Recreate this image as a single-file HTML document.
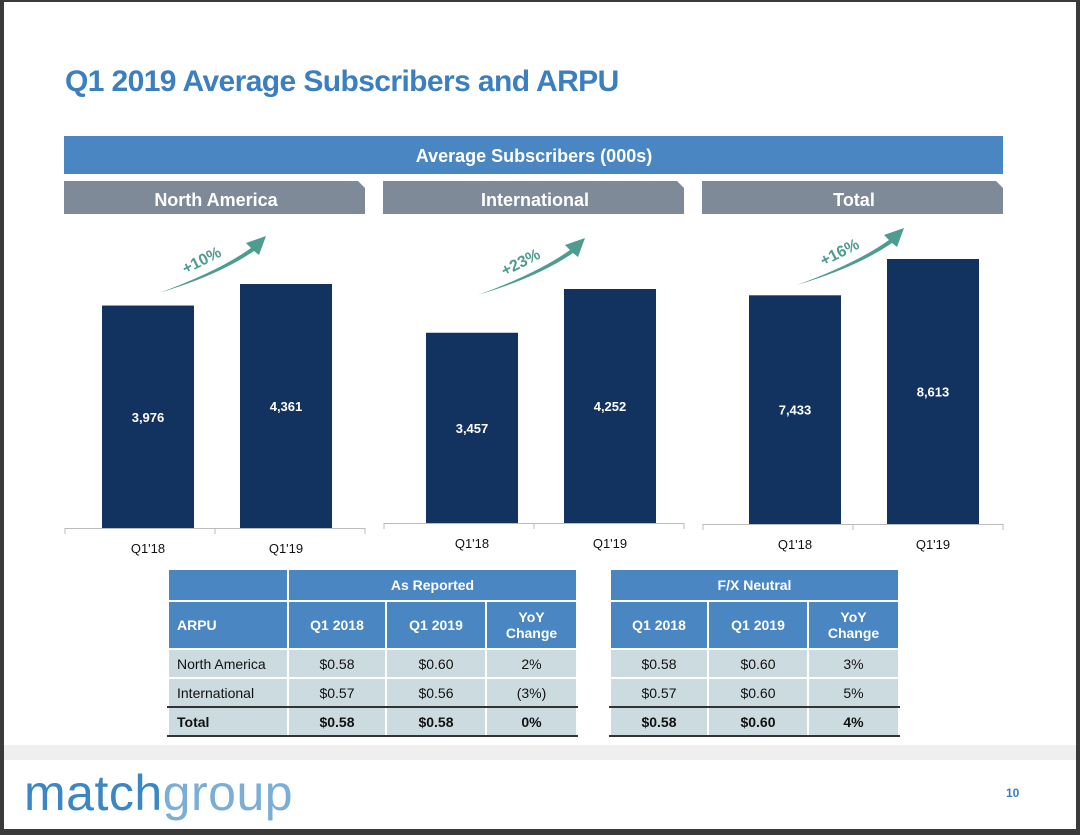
<!DOCTYPE html>
<html><head><meta charset="utf-8"><style>
body{margin:0;width:1080px;height:835px;overflow:hidden;background:#3a3a3a;font-family:"Liberation Sans",sans-serif;}
#page{position:absolute;left:4px;top:2px;width:1072px;height:827px;background:#fff;}
.title{position:absolute;left:61px;top:63px;font-size:30px;font-weight:bold;color:#3b7fc0;letter-spacing:-0.6px;}
table{position:absolute;border-collapse:collapse;font-size:14px;}
td{border:2px solid #fff;text-align:center;padding:0;}
.h{background:#4a86c1;color:#fff;font-weight:bold;}
.r{background:#ccdbe0;color:#111;}
</style></head><body>
<div id="page">
<div class="title">Q1 2019 Average Subscribers and ARPU</div>
<svg id="chart" width="1072" height="560" style="position:absolute;left:0;top:0">
<rect x="60" y="134" width="939" height="38" fill="#4a86c1"/>
<text x="530" y="160" text-anchor="middle" fill="#fff" font-weight="bold" font-size="18">Average Subscribers (000s)</text>
</svg>
<table style="left:163px;top:566px;width:411px">
<tr style="height:32px"><td style="background:#4a86c1;width:118px"></td><td class="h" colspan="3">As Reported</td></tr>
<tr style="height:48px"><td class="h" style="text-align:left;padding-left:8px">ARPU</td><td class="h" style="width:96px">Q1 2018</td><td class="h" style="width:98px">Q1 2019</td><td class="h">YoY<br>Change</td></tr>
<tr class="r" style="height:29px"><td style="text-align:left;padding-left:8px">North America</td><td>$0.58</td><td>$0.60</td><td>2%</td></tr>
<tr class="r" style="height:29px"><td style="text-align:left;padding-left:8px;border-bottom:2px solid #333">International</td><td style="border-bottom:2px solid #333">$0.57</td><td style="border-bottom:2px solid #333">$0.56</td><td style="border-bottom:2px solid #333">(3%)</td></tr>
<tr class="r" style="height:29px;font-weight:bold"><td style="text-align:left;padding-left:8px;border-bottom:2px solid #333">Total</td><td style="border-bottom:2px solid #333">$0.58</td><td style="border-bottom:2px solid #333">$0.58</td><td style="border-bottom:2px solid #333">0%</td></tr>
</table>
<table style="left:605px;top:566px;width:291px">
<tr style="height:32px"><td class="h" colspan="3">F/X Neutral</td></tr>
<tr style="height:48px"><td class="h" style="width:96px">Q1 2018</td><td class="h" style="width:98px">Q1 2019</td><td class="h">YoY<br>Change</td></tr>
<tr class="r" style="height:29px"><td>$0.58</td><td>$0.60</td><td>3%</td></tr>
<tr class="r" style="height:29px"><td style="border-bottom:2px solid #333">$0.57</td><td style="border-bottom:2px solid #333">$0.60</td><td style="border-bottom:2px solid #333">5%</td></tr>
<tr class="r" style="height:29px;font-weight:bold"><td style="border-bottom:2px solid #333">$0.58</td><td style="border-bottom:2px solid #333">$0.60</td><td style="border-bottom:2px solid #333">4%</td></tr>
</table>
<div style="position:absolute;left:0;top:743px;width:1072px;height:15px;background:#efefef"></div>
<div style="position:absolute;left:20px;top:762px;font-size:50px;color:#3b86c4;letter-spacing:0.5px"><span>match</span><span style="color:#7aaed6">group</span></div>
<div style="position:absolute;left:1002px;top:784px;font-size:12px;font-weight:bold;color:#3b7fc0">10</div>
</div>
<script>
const panels=["North America","International","Total"];
const categories=["Q1'18","Q1'19"];
const naValues=[3976,4361];
const intlValues=[3457,4252];
const totalValues=[7433,8613];
const growthLabels=["+10%","+23%","+16%"];
const series=[naValues,intlValues,totalValues];
const svg=document.getElementById('chart');
const NS='http://www.w3.org/2000/svg';
function mk(t,a){const e=document.createElementNS(NS,t);for(const k in a)e.setAttribute(k,a[k]);svg.appendChild(e);return e;}
const panelX=[60,379,698], baseY=[526,521,522], maxH=[244,234,265], barOff=[38,43,47];
panels.forEach((p,i)=>{
  const x0=panelX[i];
  const hd=mk('path',{d:`M${x0} 179 H${x0+294} L${x0+301} 186 V212 H${x0} Z`,fill:'#7f8a99'});
  
  
  const ht=mk('text',{x:x0+152,y:204,'text-anchor':'middle',fill:'#fff','font-weight':'bold','font-size':'18'});ht.textContent=p;
  
  
  const vals=series[i];const mx=Math.max(...vals);
  const y=v=>baseY[i]-v/mx*maxH[i];
  const ax=mk('line',{x1:x0+1,x2:x0+301,y1:baseY[i]+0.5,y2:baseY[i]+0.5,stroke:'#bbb'});
  
  
  mk('line',{x1:x0+1,x2:x0+1,y1:baseY[i],y2:baseY[i]+6,stroke:'#bbb'});
  mk('line',{x1:x0+151,x2:x0+151,y1:baseY[i],y2:baseY[i]+6,stroke:'#bbb'});
  mk('line',{x1:x0+301,x2:x0+301,y1:baseY[i],y2:baseY[i]+6,stroke:'#bbb'});
  vals.forEach((v,j)=>{
    const bx=x0+barOff[i]+j*138, top=y(v);
    const b=mk('rect',{x:bx,y:top,width:92,height:baseY[i]-top,fill:'#12325f'});
    
    
    const t=mk('text',{x:bx+46,y:(top+baseY[i])/2+5,'text-anchor':'middle',fill:'#fff','font-weight':'bold','font-size':'13'});t.textContent=v.toLocaleString('en-US');
    
    
    const c=mk('text',{x:bx+46,y:baseY[i]+25,'text-anchor':'middle',fill:'#111','font-size':'13'});c.textContent=categories[j];
    
    
  });
  const ay=[291,293,283][i], ax2=x0+95;
  const ar=mk('path',{d:`M${ax2} ${ay} Q${ax2+60} ${ay-22} ${ax2+92} ${ay-45} L${ax2+87} ${ay-50} L${ax2+107} ${ay-57} L${ax2+100} ${ay-38} L${ax2+95} ${ay-42} Q${ax2+60} ${ay-18} ${ax2} ${ay} Z`,fill:'#4e9b90'});
  
  
  const g=mk('text',{x:ax2+45,y:ay-28,'text-anchor':'middle',fill:'#4e9b90','font-weight':'bold','font-size':'16',transform:`rotate(-27 ${ax2+45} ${ay-28})`});g.textContent=growthLabels[i];
  
  
});
</script>
</body></html>
